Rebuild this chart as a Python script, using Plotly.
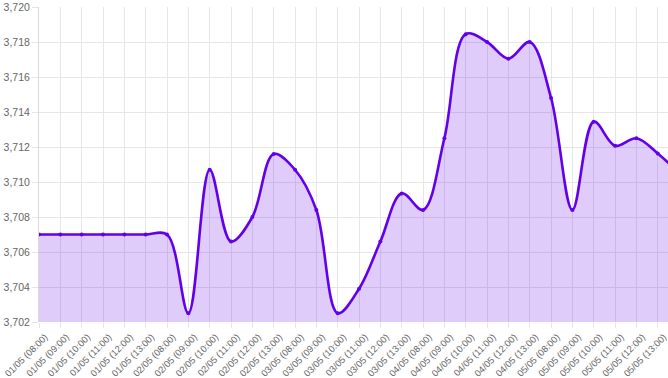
import plotly.graph_objects as go

days = ["01/05", "02/05", "03/05", "04/05", "05/05"]
hours = ["08:00", "09:00", "10:00", "11:00", "12:00", "13:00"]
tick_labels = [f"{d} ({h})" for d in days for h in hours]

values = [
    3707.0, 3707.0, 3707.0, 3707.0, 3707.0, 3707.0,
    3707.0, 3702.5, 3710.7, 3706.6, 3708.0, 3711.6,
    3710.7, 3708.4, 3702.5, 3703.9, 3706.6, 3709.35,
    3708.4, 3712.5, 3718.45, 3718.0, 3717.05, 3718.0,
    3714.8, 3708.4, 3713.45, 3712.07, 3712.5, 3711.63,
    3710.5,
]

x_idx = list(range(len(values)))
line_color = "#6200EA"

fig = go.Figure()
fig.add_trace(go.Scatter(
    x=x_idx, y=values,
    mode="lines+markers",
    line=dict(color=line_color, width=2.6, shape="spline", smoothing=1.0),
    marker=dict(color=line_color, size=4),
    fill="tozeroy",
    fillcolor="rgba(98,0,234,0.2)",
    hoverinfo="y",
    showlegend=False,
))

fig.update_layout(
    width=668, height=378,
    margin=dict(l=39, r=0, t=7, b=56),
    paper_bgcolor="white", plot_bgcolor="white",
    font=dict(family="Liberation Sans, Arial, sans-serif", size=10, color="#666"),
    xaxis=dict(
        tickmode="array",
        tickvals=list(range(len(tick_labels))),
        ticktext=tick_labels,
        tickangle=-45,
        range=[0, 29.48],
        automargin=False,
        ticklabeloverflow="allow",
        ticklabelshift=6,
        showgrid=True, gridcolor="#e6e6e6", gridwidth=1,
        ticks="outside", ticklen=5, tickcolor="#e6e6e6",
        showline=False, zeroline=False,
        tickfont=dict(size=9.4, color="#666"),
    ),
    yaxis=dict(
        range=[3702, 3720],
        dtick=2, tick0=3702,
        tickformat=",d",
        automargin=False,
        showgrid=True, gridcolor="#e6e6e6", gridwidth=1,
        ticks="outside", ticklen=6, tickcolor="#e6e6e6",
        showline=True, linecolor="#d9d9d9", linewidth=1,
        zeroline=False,
        tickfont=dict(size=10.5, color="#666"),
    ),
)

fig.write_html("out.html", config={"displayModeBar": False},
               post_script="document.body.style.margin='0';")
